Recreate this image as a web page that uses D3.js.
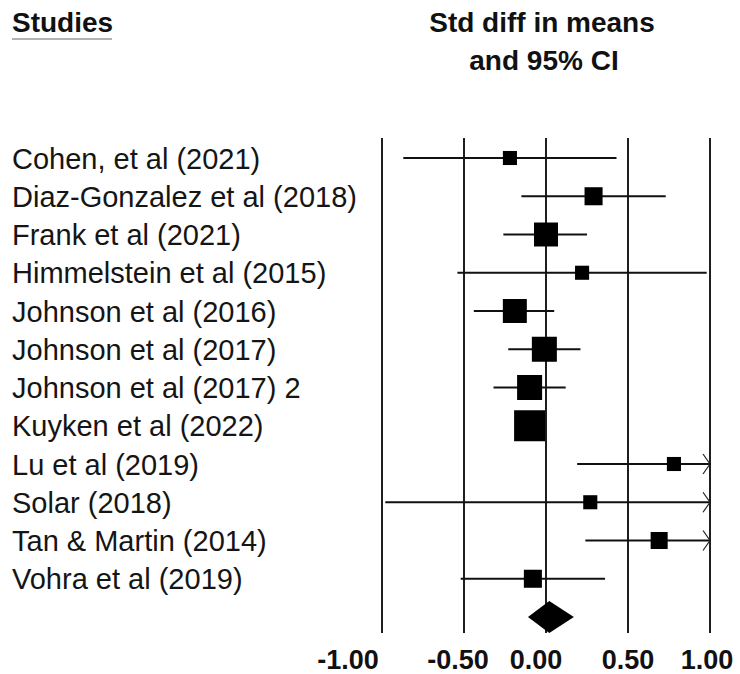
<!DOCTYPE html>
<html>
<head>
<meta charset="utf-8">
<script src="https://cdn.jsdelivr.net/npm/d3@7"></script>
<style>
  html, body { margin: 0; padding: 0; background: #fff; }
  svg { display: block; }
</style>
</head>
<body>
<svg id="chart" width="740" height="674"></svg>
<script>
// Forest plot: standardized difference in means with 95% confidence intervals
const studies = [
  "Cohen, et al (2021)",
  "Diaz-Gonzalez et al (2018)",
  "Frank et al (2021)",
  "Himmelstein et al (2015)",
  "Johnson et al (2016)",
  "Johnson et al (2017)",
  "Johnson et al (2017) 2",
  "Kuyken et al (2022)",
  "Lu et al (2019)",
  "Solar (2018)",
  "Tan & Martin (2014)",
  "Vohra et al (2019)"
];
const effect = [-0.22, 0.29, 0.00, 0.22, -0.19, -0.01, -0.10, -0.10, 0.78, 0.27, 0.69, -0.08];
const lower  = [-0.87, -0.15, -0.26, -0.54, -0.44, -0.23, -0.32, -0.18, 0.19, -0.98, 0.24, -0.52];
const upper  = [0.43, 0.73, 0.25, 0.98, 0.05, 0.21, 0.12, -0.03, 1.37, 1.52, 1.15, 0.36];
const weight = [3.9, 6.4, 11.3, 3.9, 11.3, 12.3, 12.3, 18.9, 3.9, 3.9, 5.7, 6.4];
const summary = { effect: 0.02, lower: -0.11, upper: 0.17 };
const tickValues = [-1, -0.5, 0, 0.5, 1];

const svg = d3.select("#chart");
const font = "'Liberation Sans', Arial, Helvetica, sans-serif";

const x = d3.scaleLinear().domain([-1, 1]).range([382, 710]);
const rowKeys = studies.concat(["__summary"]);
const y = d3.scalePoint().domain(rowKeys).range([158, 617]);
const size = d3.scaleSqrt().domain([0, d3.max(weight)]).range([0, 31]);

// Headers
svg.append("text")
  .attr("x", 12).attr("y", 32)
  .attr("font-family", font).attr("font-size", 28).attr("font-weight", "bold")
  .attr("fill", "#111")
  .text("Studies");
svg.append("line")
  .attr("x1", 12).attr("x2", 112).attr("y1", 39).attr("y2", 39)
  .attr("stroke", "#9a9a9a").attr("stroke-width", 1.5);

const head = svg.append("text")
  .attr("font-family", font).attr("font-size", 28).attr("font-weight", "bold")
  .attr("fill", "#111").attr("text-anchor", "middle");
head.append("tspan").attr("x", 542).attr("y", 32).text("Std diff in means");
head.append("tspan").attr("x", 544).attr("y", 70).text("and 95% CI");

// Vertical reference lines at each tick
svg.append("g").selectAll("line")
  .data(tickValues).join("line")
  .attr("x1", d => x(d)).attr("x2", d => x(d))
  .attr("y1", 138).attr("y2", 633)
  .attr("stroke", "#1e1e1e").attr("stroke-width", 2);

// Tick labels along the bottom (plain hyphen for negatives)
const labelNudge = [-34, -6, -10, 0, -3];
const fmt = d => d3.format(".2f")(d).replace("\u2212", "-");
svg.append("g").selectAll("text")
  .data(tickValues).join("text")
  .attr("x", (d, i) => x(d) + labelNudge[i])
  .attr("y", 669)
  .attr("text-anchor", "middle")
  .attr("font-family", font).attr("font-size", 27).attr("font-weight", "bold")
  .attr("fill", "#111")
  .text(fmt);

// Study labels
svg.append("g").selectAll("text")
  .data(studies).join("text")
  .attr("x", 12)
  .attr("y", d => y(d) + 10.5)
  .attr("font-family", font).attr("font-size", 29)
  .attr("fill", "#151515")
  .text(d => d);

const rows = studies.map((s, i) => ({
  name: s, effect: effect[i], lower: lower[i], upper: upper[i], weight: weight[i]
}));
const [dMin, dMax] = x.domain();

const g = svg.append("g");
// Confidence interval lines (clipped at the axis range)
g.selectAll("line.ci")
  .data(rows).join("line")
  .attr("class", "ci")
  .attr("x1", d => x(Math.max(d.lower, dMin)))
  .attr("x2", d => x(Math.min(d.upper, dMax)))
  .attr("y1", d => y(d.name)).attr("y2", d => y(d.name))
  .attr("stroke", "#111").attr("stroke-width", 2);

// Open arrowheads for intervals that run past the axis range
g.selectAll("path.arrow")
  .data(rows.filter(d => d.upper > dMax)).join("path")
  .attr("class", "arrow")
  .attr("d", d => {
    const tx = x(dMax), ty = y(d.name);
    return `M${tx - 7},${ty - 10}L${tx},${ty}L${tx - 7},${ty + 10}`;
  })
  .attr("fill", "none").attr("stroke", "#222").attr("stroke-width", 1.2);

// Point estimates, square area proportional to study weight
g.selectAll("rect.pt")
  .data(rows).join("rect")
  .attr("class", "pt")
  .attr("x", d => x(d.effect) - size(d.weight) / 2)
  .attr("y", d => y(d.name) - size(d.weight) / 2)
  .attr("width", d => size(d.weight))
  .attr("height", d => size(d.weight))
  .attr("fill", "#000");

// Pooled estimate diamond
const sy = y("__summary");
svg.append("path")
  .attr("d", `M${x(summary.lower)},${sy}L${x(summary.effect)},${sy - 16}L${x(summary.upper)},${sy}L${x(summary.effect)},${sy + 16}Z`)
  .attr("fill", "#000");
</script>
</body>
</html>
